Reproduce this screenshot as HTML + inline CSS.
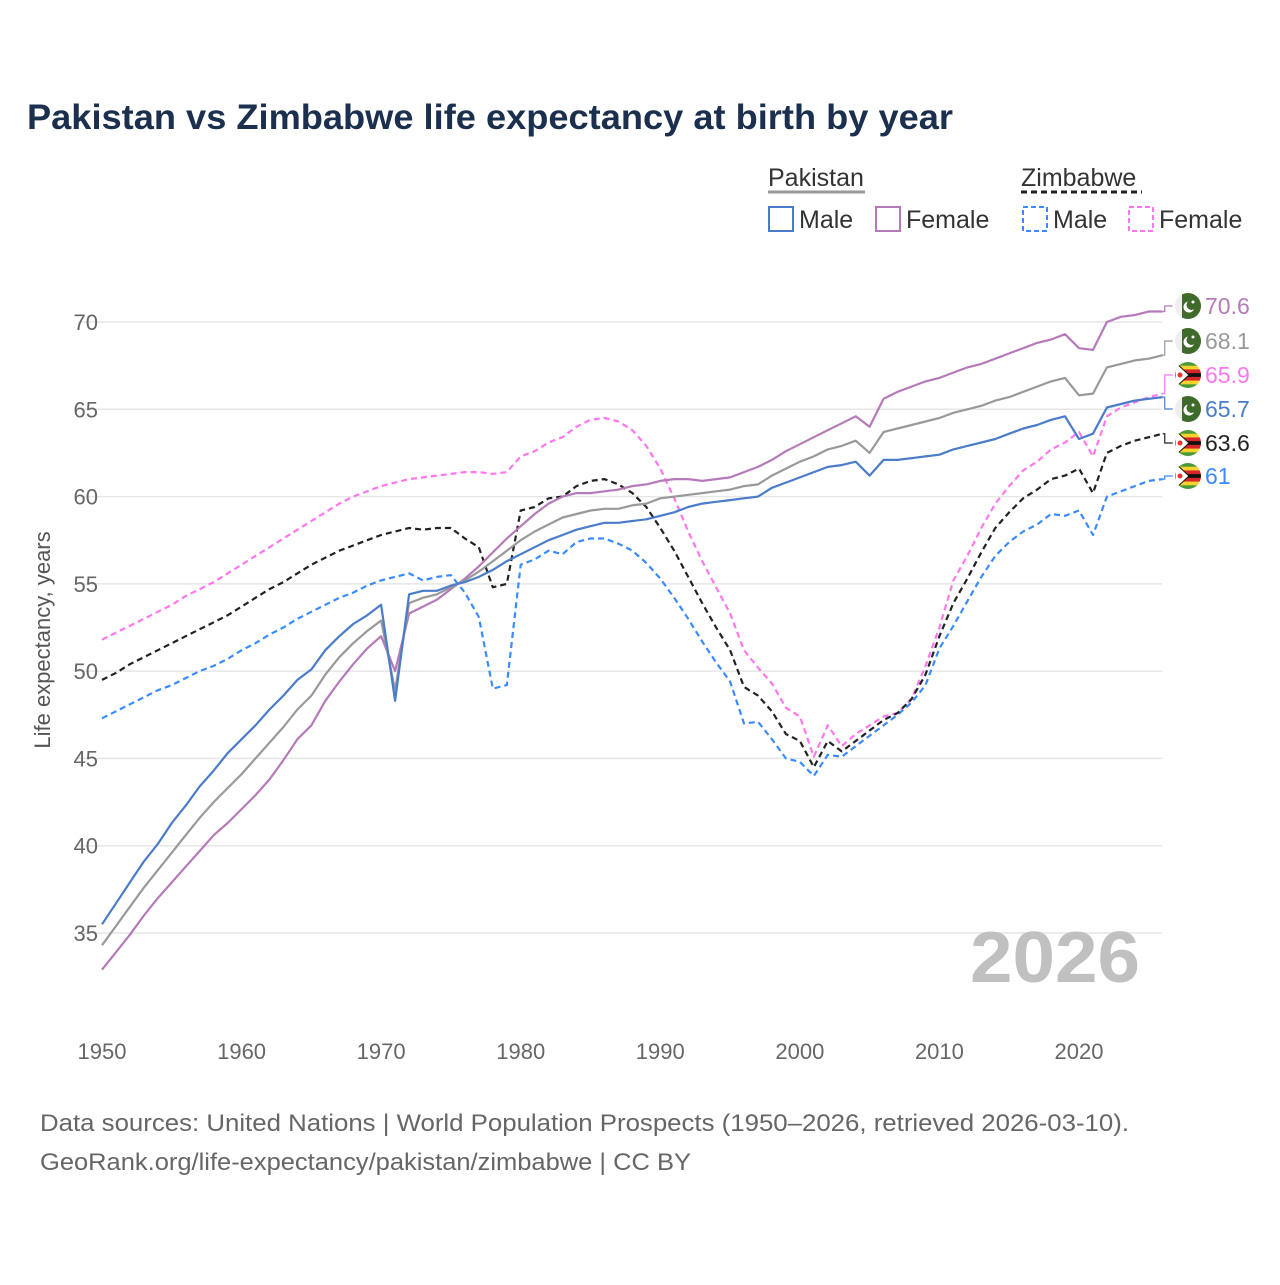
<!DOCTYPE html>
<html><head><meta charset="utf-8"><style>
body{margin:0;background:#fff;}
svg text{font-family:"Liberation Sans","DejaVu Sans",sans-serif;}
</style></head><body>
<svg id="chart" width="1280" height="1280" viewBox="0 0 1280 1280" xmlns="http://www.w3.org/2000/svg">
<rect width="1280" height="1280" fill="#fff"/>
<text x="27" y="129" font-size="35" font-weight="bold" fill="#1b2f4e" textLength="926" lengthAdjust="spacingAndGlyphs">Pakistan vs Zimbabwe life expectancy at birth by year</text>
<g font-size="25">
  <text x="768" y="186" fill="#333">Pakistan</text>
  <line x1="768" y1="192" x2="865" y2="192" stroke="#999" stroke-width="3"/>
  <text x="1021" y="186" fill="#333">Zimbabwe</text>
  <line x1="1021" y1="192" x2="1142" y2="192" stroke="#222" stroke-width="3" stroke-dasharray="6,4"/>
  <g><rect x="769" y="207" width="24" height="24" fill="none" stroke="#4a7cc9" stroke-width="2"/><text x="799" y="228" fill="#333">Male</text></g>
  <g><rect x="876" y="207" width="24" height="24" fill="none" stroke="#b57ab8" stroke-width="2"/><text x="906" y="228" fill="#333">Female</text></g>
  <g><rect x="1023" y="207" width="24" height="24" fill="none" stroke="#3a8bff" stroke-width="2" stroke-dasharray="5,3"/><text x="1053" y="228" fill="#333">Male</text></g>
  <g><rect x="1129" y="207" width="24" height="24" fill="none" stroke="#ff77ee" stroke-width="2" stroke-dasharray="5,3"/><text x="1159" y="228" fill="#333">Female</text></g>
</g>
<g id="grid"></g>
<text transform="translate(50,640) rotate(-90)" text-anchor="middle" font-size="22" fill="#555">Life expectancy, years</text>
<text x="1140" y="982" text-anchor="end" font-size="72" font-weight="bold" fill="#c0c0c0" textLength="170" lengthAdjust="spacingAndGlyphs">2026</text>
<g id="series"></g>
<g id="labels"></g>
<text x="40" y="1131" font-size="24" fill="#666" textLength="1089" lengthAdjust="spacingAndGlyphs">Data sources: United Nations | World Population Prospects (1950–2026, retrieved 2026-03-10).</text>
<text x="40" y="1170" font-size="24" fill="#666" textLength="651" lengthAdjust="spacingAndGlyphs">GeoRank.org/life-expectancy/pakistan/zimbabwe | CC BY</text>
</svg>
<script>
const startYear = 1950;
const xTicks = [1950,1960,1970,1980,1990,2000,2010,2020];
const yTicks = [35,40,45,50,55,60,65,70];
const pkMale = [35.5,36.7,37.9,39.1,40.1,41.3,42.3,43.4,44.3,45.3,46.1,46.9,47.8,48.6,49.5,50.1,51.2,52.0,52.7,53.2,53.8,48.3,54.4,54.6,54.6,54.9,55.1,55.4,55.8,56.3,56.7,57.1,57.5,57.8,58.1,58.3,58.5,58.5,58.6,58.7,58.9,59.1,59.4,59.6,59.7,59.8,59.9,60.0,60.5,60.8,61.1,61.4,61.7,61.8,62.0,61.2,62.1,62.1,62.2,62.3,62.4,62.7,62.9,63.1,63.3,63.6,63.9,64.1,64.4,64.6,63.3,63.6,65.1,65.3,65.5,65.6,65.7];
const pkFemale = [32.9,33.9,34.9,36.0,37.0,37.9,38.8,39.7,40.6,41.3,42.1,42.9,43.8,44.9,46.1,46.9,48.3,49.4,50.4,51.3,52.0,50.0,53.3,53.7,54.1,54.7,55.3,56.0,56.8,57.6,58.3,59.0,59.6,60.0,60.2,60.2,60.3,60.4,60.6,60.7,60.9,61.0,61.0,60.9,61.0,61.1,61.4,61.7,62.1,62.6,63.0,63.4,63.8,64.2,64.6,64.0,65.6,66.0,66.3,66.6,66.8,67.1,67.4,67.6,67.9,68.2,68.5,68.8,69.0,69.3,68.5,68.4,70.0,70.3,70.4,70.6,70.6];
const pkTotal = [34.3,35.4,36.5,37.6,38.6,39.6,40.6,41.6,42.5,43.3,44.1,45.0,45.9,46.8,47.8,48.6,49.8,50.8,51.6,52.3,52.9,48.9,53.9,54.2,54.4,54.8,55.2,55.7,56.3,56.9,57.5,58.0,58.4,58.8,59.0,59.2,59.3,59.3,59.5,59.6,59.9,60.0,60.1,60.2,60.3,60.4,60.6,60.7,61.2,61.6,62.0,62.3,62.7,62.9,63.2,62.5,63.7,63.9,64.1,64.3,64.5,64.8,65.0,65.2,65.5,65.7,66.0,66.3,66.6,66.8,65.8,65.9,67.4,67.6,67.8,67.9,68.1];
const zwFemale = [51.8,52.2,52.6,53.0,53.4,53.8,54.3,54.7,55.1,55.6,56.1,56.6,57.1,57.6,58.1,58.6,59.1,59.6,60.0,60.3,60.6,60.8,61.0,61.1,61.2,61.3,61.4,61.4,61.3,61.4,62.3,62.6,63.1,63.4,64.0,64.4,64.5,64.3,63.8,62.9,61.6,59.9,58.0,56.3,54.8,53.3,51.2,50.2,49.3,47.9,47.4,45.1,46.9,45.7,46.4,46.9,47.4,47.6,48.4,50.3,52.5,55.2,56.6,58.2,59.6,60.6,61.5,62.0,62.7,63.1,63.7,62.3,64.6,65.1,65.4,65.7,65.9];
const zwMale = [47.3,47.7,48.1,48.5,48.9,49.2,49.6,50.0,50.3,50.7,51.2,51.6,52.1,52.5,53.0,53.4,53.8,54.2,54.5,54.9,55.2,55.4,55.6,55.2,55.4,55.5,54.5,53.1,49.0,49.2,56.1,56.4,56.9,56.7,57.4,57.6,57.6,57.3,56.9,56.2,55.3,54.2,53.0,51.7,50.5,49.4,47.0,47.1,46.1,45.0,44.8,44.0,45.2,45.1,45.7,46.3,46.9,47.5,48.2,49.2,51.3,52.6,54.0,55.4,56.6,57.4,58.0,58.4,59.0,58.9,59.2,57.8,60.0,60.3,60.6,60.9,61.0];
const zwTotal = [49.5,49.9,50.4,50.8,51.2,51.6,52.0,52.4,52.8,53.2,53.7,54.2,54.7,55.1,55.6,56.1,56.5,56.9,57.2,57.5,57.8,58.0,58.2,58.1,58.2,58.2,57.6,57.1,54.8,55.0,59.2,59.4,59.9,60.0,60.6,60.9,61.0,60.7,60.2,59.4,58.2,56.9,55.4,53.9,52.5,51.2,49.1,48.6,47.7,46.4,46.0,44.5,46.0,45.4,46.0,46.6,47.2,47.6,48.4,49.8,52.0,53.9,55.3,56.8,58.2,59.1,59.9,60.4,61.0,61.2,61.6,60.2,62.5,62.9,63.2,63.4,63.6];

const NS = "http://www.w3.org/2000/svg";
const xS = y => 102 + (y - 1950) * (977/70);
const yS = v => 322 + (70 - v) * (611/35);
function mk(tag, attrs, parent){const e=document.createElementNS(NS,tag);for(const k in attrs)e.setAttribute(k,attrs[k]);parent.appendChild(e);return e;}
const grid = document.getElementById('grid');
yTicks.forEach(t=>{
  const l=mk('line',{x1:78,x2:1162,y1:yS(t),y2:yS(t),stroke:'#e6e6e6','stroke-width':1.5},grid);
  
  
  const tx=mk('text',{x:98,y:yS(t)+8,'text-anchor':'end','font-size':22,fill:'#666'},grid);
  tx.textContent=t;
  
  
});
xTicks.forEach(t=>{
  const tx=mk('text',{x:xS(t),y:1059,'text-anchor':'middle','font-size':22,fill:'#666'},grid);
  tx.textContent=t;
  
  
});
const series = [
  {n:'zimbabwe-female-line',d:zwFemale,c:'#ff77ee',dash:'6,4'},
  {n:'zimbabwe-male-line',d:zwMale,c:'#3a8bff',dash:'6,4'},
  {n:'zimbabwe-total-line',d:zwTotal,c:'#222',dash:'6,4'},
  {n:'pakistan-female-line',d:pkFemale,c:'#b57ab8',dash:''},
  {n:'pakistan-total-line',d:pkTotal,c:'#999',dash:''},
  {n:'pakistan-male-line',d:pkMale,c:'#4a7cc9',dash:''}
];
const sg=document.getElementById('series');
series.forEach(s=>{
  const pts=s.d.map((v,i)=>xS(startYear+i).toFixed(1)+','+yS(v).toFixed(1)).join(' ');
  const p=mk('polyline',{points:pts,fill:'none',stroke:s.c,'stroke-width':2.2,'stroke-dasharray':s.dash,'stroke-linejoin':'round'},sg);
  
  
});
const endLabels=[
  {d:pkFemale,c:'#b57ab8',ly:306,f:'pk'},
  {d:pkTotal,c:'#999',ly:341,f:'pk'},
  {d:zwFemale,c:'#ff77ee',ly:375,f:'zw'},
  {d:pkMale,c:'#4a7cc9',ly:409,f:'pk'},
  {d:zwTotal,c:'#222',ly:443,f:'zw'},
  {d:zwMale,c:'#3a8bff',ly:476,f:'zw'}
];
const lg=document.getElementById('labels');
endLabels.forEach(e=>{
  const v=e.d[e.d.length-1];
  const x0=xS(startYear+e.d.length-1), y0=yS(v);
  mk('polyline',{points:`${x0},${y0} ${x0+2},${y0} ${x0+2},${e.ly} ${x0+10},${e.ly}`,fill:'none',stroke:e.c,'stroke-width':1.2},lg);
  const g=mk('g',{},lg);
  
  
  const cx=1188, cy=e.ly;
  const cp=mk('clipPath',{id:'cp'+e.ly},g);
  mk('circle',{cx,cy,r:13},cp);
  const gg=mk('g',{'clip-path':`url(#cp${e.ly})`},g);
  if(e.f==='pk'){
    mk('rect',{x:cx-13,y:cy-13,width:26,height:26,fill:'#eee'},gg);
    mk('rect',{x:cx-6,y:cy-13,width:20,height:26,fill:'#3f6b2a'},gg);
    mk('circle',{cx:cx+1,cy:cy+1,r:5.5,fill:'#fff'},gg);
    mk('circle',{cx:cx+3.5,cy:cy-1,r:5,fill:'#3f6b2a'},gg);
    mk('circle',{cx:cx+5,cy:cy-4,r:1.5,fill:'#fff'},gg);
  } else {
    const cols=['#4a9a3a','#f5d22c','#d6262b','#111','#d6262b','#f5d22c','#4a9a3a'];
    cols.forEach((c,i)=>mk('rect',{x:cx-13,y:cy-13+i*26/7,width:26,height:26/7+0.5,fill:c},gg));
    mk('path',{d:`M${cx-13},${cy-13} L${cx+1},${cy} L${cx-13},${cy+13} Z`,fill:'#fff',stroke:'#111','stroke-width':1},gg);
    mk('circle',{cx:cx-8,cy,r:2.5,fill:'#e33'},gg);
  }
  const t=mk('text',{x:1205,y:e.ly+8,'font-size':23,fill:e.c},lg);
  t.textContent=Math.round(v*10)/10;
  
  
});
</script>
</body></html>
